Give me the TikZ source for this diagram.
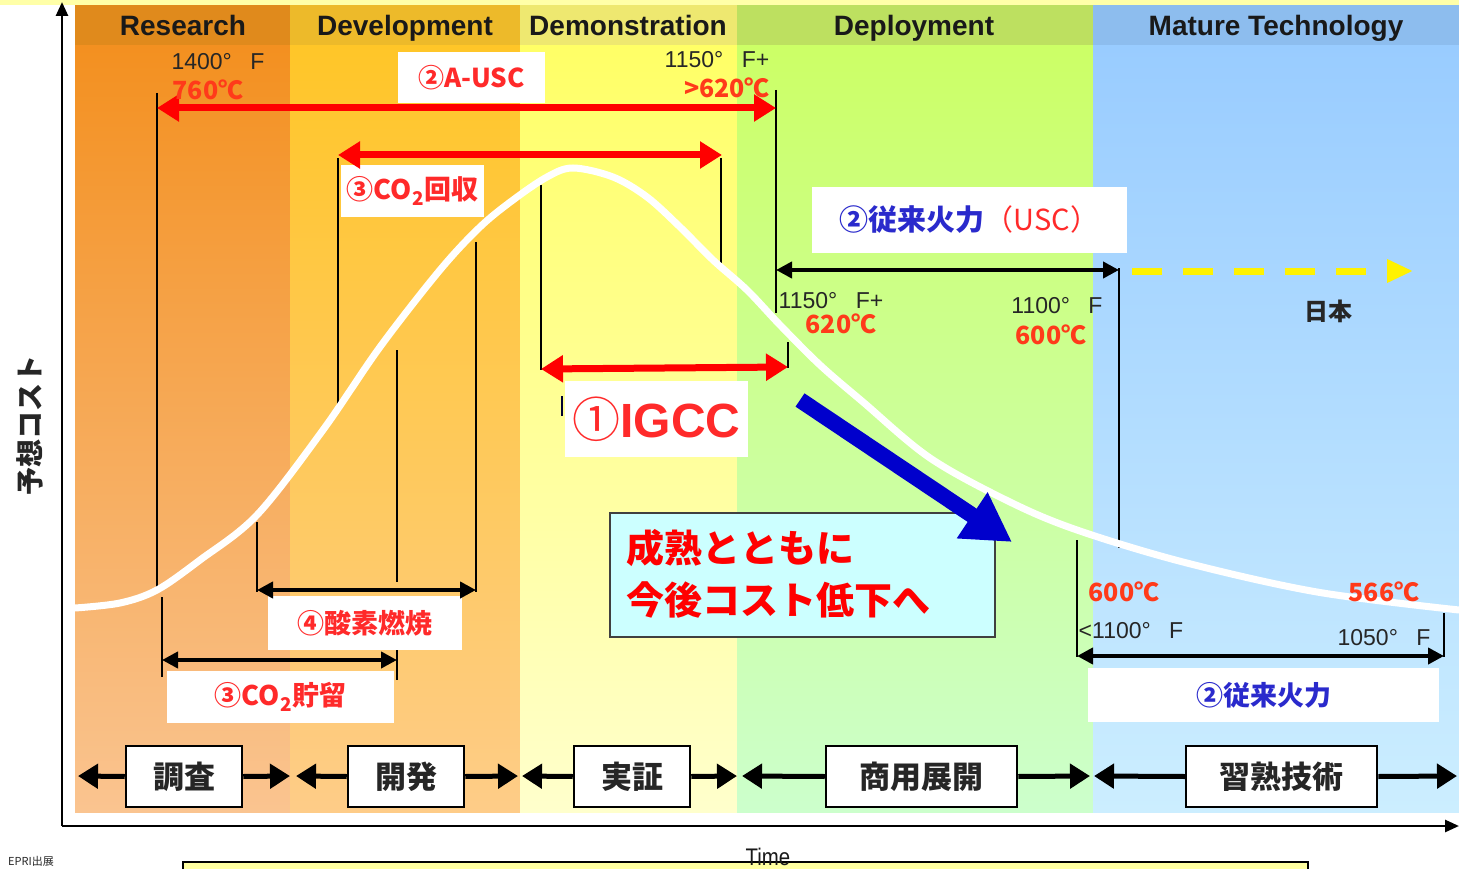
\documentclass[tikz,border=0pt]{standalone}
\usepackage{fontspec}
\setmainfont{Liberation Sans}
\newfontfamily\jp{Noto Sans CJK JP}
\usetikzlibrary{arrows.meta}
\definecolor{tred}{HTML}{FF3A1A}
\definecolor{lred}{HTML}{FF2A2A}
\definecolor{ublue}{HTML}{2A2ACC}
\definecolor{topstrip}{HTML}{FFFFA8}
\definecolor{resH}{HTML}{E08A1C}
\definecolor{resT}{HTML}{F39020}
\definecolor{resB}{HTML}{FAC490}
\definecolor{devH}{HTML}{EDBA2A}
\definecolor{devT}{HTML}{FFC628}
\definecolor{devB}{HTML}{FECC88}
\definecolor{demH}{HTML}{EEE870}
\definecolor{demT}{HTML}{FFFF66}
\definecolor{demB}{HTML}{FFFFCC}
\definecolor{depH}{HTML}{BDE060}
\definecolor{depT}{HTML}{CCFF66}
\definecolor{depB}{HTML}{CCFFCC}
\definecolor{matH}{HTML}{8DBDEE}
\definecolor{matT}{HTML}{99CCFF}
\definecolor{matB}{HTML}{CCEEFF}
\definecolor{cyanbox}{HTML}{CCFFFF}
\definecolor{yelbox}{HTML}{FFFFA0}
\definecolor{barrow}{HTML}{0000CC}
\tikzset{
  vline/.style={line width=1.4pt, black},
  redarr/.style={line width=7pt, red, {Triangle[length=22pt,width=26pt]}-{Triangle[length=22pt,width=26pt]}},
  blkarr/.style={line width=4pt, black, {Triangle[length=16pt,width=16pt]}-{Triangle[length=16pt,width=16pt]}},
  phasearr/.style={line width=5pt, black, -{Triangle[length=20pt,width=24pt]}},
  axisarr/.style={line width=2.7pt, black, -{Triangle[length=14pt,width=12pt]}},
  lbl/.style={fill=white, inner sep=0pt, align=center},
  phase/.style={draw=black, line width=2.5pt, fill=white, minimum width=116pt, minimum height=61pt, inner sep=0pt, font=\jp\bfseries\fontsize{31}{34}\selectfont, text=black!85},
  hdr/.style={font=\bfseries\fontsize{28}{30}\selectfont, text=black!90, inner sep=0pt, anchor=base},
  tempF/.style={font=\fontsize{23}{25}\selectfont, inner sep=0pt, text=black!85},
  tempC/.style={font=\jp\bfseries\fontsize{25}{27}\selectfont, inner sep=0pt, text=tred},
}
\newcommand{\degF}[1]{#1°\hspace{0.8em}F}
\begin{document}
\begin{tikzpicture}[x=1pt,y=-1pt]
\useasboundingbox (0,0) rectangle (1459,869);
\fill[white] (0,0) rectangle (1459,869);
\fill[topstrip] (0,0) rectangle (1459,5);
% bands
\shade[top color=resT, bottom color=resB] (75,45) rectangle (290,812);
\shade[top color=devT, bottom color=devB] (290,45) rectangle (520,812);
\shade[top color=demT, bottom color=demB] (520,45) rectangle (737,812);
\shade[top color=depT, bottom color=depB] (737,45) rectangle (1093,812);
\shade[top color=matT, bottom color=matB] (1093,45) rectangle (1459,812);
\fill[resH] (75,5) rectangle (290,45);
\fill[devH] (290,5) rectangle (520,45);
\fill[demH] (520,5) rectangle (737,45);
\fill[depH] (737,5) rectangle (1093,45);
\fill[matH] (1093,5) rectangle (1459,45);
\node[hdr] (hRes) at (183,36) {Research};
\node[hdr] (hDev) at (405,36) {Development};
\node[hdr] (hDem) at (628,36) {Demonstration};
\node[hdr] (hDep) at (914,36) {Deployment};
\node[hdr] (hMat) at (1276,36) {Mature Technology};
% axes
\coordinate (origin) at (62,826);
\coordinate (ytip) at (62,2);
\coordinate (xtip) at (1459,826);
\draw[axisarr] (origin) -- (ytip);
\draw[axisarr] (origin) -- (xtip);
% vertical guide lines
\draw[vline] (157,93) -- (157,587);
\draw[vline] (162,597) -- (162,677);
\draw[vline] (257,522) -- (257,592);
\draw[vline] (338,158) -- (338,412);
\draw[vline] (397,350) -- (397,582);
\draw[vline] (397,650) -- (397,680);
\draw[vline] (476,242) -- (476,592);
\draw[vline] (541,185) -- (541,370);
\draw[vline] (721,158) -- (721,263);
\draw[vline] (776,90) -- (776,313);
\draw[vline] (788,342) -- (788,368);
\draw[vline] (1119,268) -- (1119,548);
\draw[vline] (1077,540) -- (1077,657);
\draw[vline] (1444,613) -- (1444,657);
\draw[line width=2.5pt, black!80!blue] (562,396) -- (562,416);
% curve
\draw[white, line width=7pt, line cap=round] plot[smooth, tension=0.55] coordinates {
(75,608) (120,603) (157,590) (200,560) (257,515) (323,430) (380,347) (440,270)
(480,227) (513,200) (547,177) (573,168) (613,177) (647,197) (680,227) (713,260)
(747,290) (780,325) (820,365) (863,402) (930,458) (1010,502) (1077,530)
(1183,562) (1317,592) (1459,610)};
% white label boxes
\node[lbl, minimum width=147pt, minimum height=51pt, font=\jp\bfseries\fontsize{26}{28}\selectfont, text=lred] (lAUSC) at (471.5,77.5) {②A-USC};
\node[lbl, minimum width=143pt, minimum height=52pt, font=\jp\bfseries\fontsize{27}{29}\selectfont, text=lred] (lCOc) at (412.5,191) {③CO\textsubscript{2}回収};
\node[lbl, minimum width=183pt, minimum height=76pt, text=lred] (lIGCC) at (656.5,419) {{\jp\fontsize{48}{50}\selectfont ①}{\bfseries\fontsize{48}{50}\selectfont IGCC}};
\node[lbl, minimum width=315pt, minimum height=66pt, font=\jp\fontsize{29}{31}\selectfont] (lUSC) at (969.5,220) {\textcolor{ublue}{\bfseries ②従来火力}\textcolor{lred}{（USC）}};
\node[lbl, minimum width=194pt, minimum height=54pt, font=\jp\bfseries\fontsize{27}{29}\selectfont, text=lred] (lOx) at (365,623) {④酸素燃焼};
\node[lbl, minimum width=227pt, minimum height=52pt, font=\jp\bfseries\fontsize{27}{29}\selectfont, text=lred] (lCOs) at (280.5,697) {③CO\textsubscript{2}貯留};
\node[lbl, minimum width=351pt, minimum height=54pt, font=\jp\bfseries\fontsize{27}{29}\selectfont, text=ublue] (lConv) at (1263.5,695) {②従来火力};
% red arrows
\coordinate (ausL) at (157,108); \coordinate (ausR) at (776,108);
\draw[redarr] (ausL) -- (ausR);
\coordinate (cocL) at (338,155); \coordinate (cocR) at (722,155);
\draw[redarr] (cocL) -- (cocR);
\coordinate (igL) at (541,369); \coordinate (igR) at (788,367);
\draw[redarr] (igL) -- (igR);
% black arrows
\coordinate (oxL) at (257,590); \coordinate (oxR) at (476,590);
\draw[blkarr] (oxL) -- (oxR);
\coordinate (csL) at (162,660); \coordinate (csR) at (397,660);
\draw[blkarr] (csL) -- (csR);
\coordinate (uscL) at (776,270); \coordinate (uscR) at (1119,270);
\draw[blkarr] (uscL) -- (uscR);
\coordinate (convL) at (1077,656); \coordinate (convR) at (1444,656);
\draw[blkarr] (convL) -- (convR);
% yellow dashed arrow
\coordinate (jpL) at (1132,271); \coordinate (jpR) at (1413,271);
\draw[yellow, line width=7pt, dash pattern=on 30pt off 21pt, -{Triangle[length=26pt,width=22pt]}] (jpL) -- (jpR);
\node[font=\jp\bfseries\fontsize{24}{26}\selectfont, text=black!85, inner sep=0pt] (japan) at (1328,311) {日本};
% temperatures
\node[tempF] (t1F) at (218,62) {\degF{1400}};
\node[tempC] (t1C) at (208,90) {760℃};
\node[tempF] (t2F) at (717,60) {\degF{1150}+};
\node[tempC] (t2C) at (727,88) {>620℃};
\node[tempF] (t3F) at (831,301) {\degF{1150}+};
\node[tempC] (t3C) at (841,324) {620℃};
\node[tempF] (t4F) at (1057,306) {\degF{1100}};
\node[tempC] (t4C) at (1051,335) {600℃};
\node[tempC] (t5C) at (1124,592) {600℃};
\node[tempF] (t5F) at (1131,631) {<\degF{1100}};
\node[tempC] (t6C) at (1384,592) {566℃};
\node[tempF] (t6F) at (1384,638) {\degF{1050}};
% cyan box
\node[draw=black!75, line width=2pt, fill=cyanbox, minimum width=385pt, minimum height=124pt, inner sep=0pt] (cbox) at (802.5,575) {};
\node[anchor=west, inner sep=0pt, font=\jp\bfseries\fontsize{38}{40}\selectfont, text=red] (cb1) at (626,548) {成熟とともに};
\node[anchor=west, inner sep=0pt, font=\jp\bfseries\fontsize{38}{40}\selectfont, text=red] (cb2) at (626,600) {今後コスト低下へ};
% blue arrow
\coordinate (bA) at (800,400); \coordinate (bB) at (1012,542);
\draw[barrow, line width=16pt, -{Triangle[length=48pt,width=52pt]}] (bA) -- (bB);
% phase boxes
\node[phase] (p1) at (184,776.5) {調査};
\node[phase] (p2) at (406,776.5) {開発};
\node[phase] (p3) at (632,776.5) {実証};
\node[phase, minimum width=191pt] (p4) at (921.5,776.5) {商用展開};
\node[phase, minimum width=191pt] (p5) at (1281.5,776.5) {習熟技術};
\coordinate (p1l) at (78,776); \coordinate (p1r) at (290,776);
\coordinate (p2l) at (296,776); \coordinate (p2r) at (518,776);
\coordinate (p3l) at (522,776); \coordinate (p3r) at (737,776);
\coordinate (p4l) at (742,776); \coordinate (p4r) at (1090,776);
\coordinate (p5l) at (1094,776); \coordinate (p5r) at (1457,776);
\foreach \n in {1,...,5}{
  \draw[phasearr] (p\n.west) -- (p\n l);
  \draw[phasearr] (p\n.east) -- (p\n r);
}
% y label
\node[rotate=90, font=\jp\bfseries\fontsize{28}{30}\selectfont, text=black!85, inner sep=0pt] (ylab) at (30,425) {予想コスト};
% bottom strip
\fill[yelbox, draw=black, line width=2pt] (183,862) rectangle (1308,900);
\node[font=\fontsize{24}{26}\selectfont, xscale=0.85, text=black!90, inner sep=0pt] (time) at (768,857) {Time};
\node[anchor=south west, font=\jp\fontsize{11}{12}\selectfont, text=black!85, inner sep=0pt] (src) at (8,867) {EPRI出展};
\end{tikzpicture}
\end{document}
